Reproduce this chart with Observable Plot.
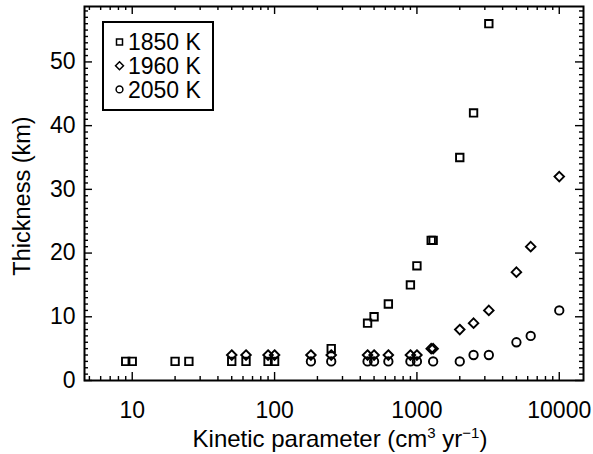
<!DOCTYPE html>
<html><head><meta charset="utf-8">
<script src="https://cdn.jsdelivr.net/npm/d3@7"></script>
<script src="https://cdn.jsdelivr.net/npm/@observablehq/plot@0.6"></script>
<style>
html,body{margin:0;padding:0;background:#fff;}
#chart{width:593px;height:454px;position:relative;}
</style></head><body><div id="chart"></div>
<script>
// ---- data ----
const seriesNames = ["1850 K", "1960 K", "2050 K"];
const k1850 = [9, 10, 20, 25, 50, 63, 90, 100, 250, 450, 500, 630, 900, 1000, 1260, 1300, 2000, 2500, 3200];
const t1850 = [3, 3, 3, 3, 3, 3, 3, 3, 5, 9, 10, 12, 15, 18, 22, 22, 35, 42, 56];
const k1960 = [50, 63, 90, 100, 180, 250, 450, 500, 630, 900, 1000, 1260, 1300, 2000, 2500, 3200, 5000, 6300, 10000];
const t1960 = [4, 4, 4, 4, 4, 4, 4, 4, 4, 4, 4, 5, 5, 8, 9, 11, 17, 21, 32];
const k2050 = [180, 250, 450, 500, 630, 900, 1000, 1300, 2000, 2500, 3200, 5000, 6300, 10000];
const t2050 = [3, 3, 3, 3, 3, 3, 3, 3, 3, 4, 4, 6, 7, 11];
const xMajorTicks = [10, 100, 1000, 10000];
const xTickLabels = ["10", "100", "1000", "10000"];
const yMajorTicks = [0, 10, 20, 30, 40, 50];
const yTickLabels = ["0", "10", "20", "30", "40", "50"];
const xTitle = ["Kinetic parameter (cm", "3", " yr", "\u22121", ")"];
const yTitle = "Thickness (km)";

const rows = (ks, ts) => ks.map((k, i) => ({k, t: ts[i]}));
const d1850 = rows(k1850, t1850), d1960 = rows(k1960, t1960), d2050 = rows(k2050, t2050);

const W = 593, H = 454, ML = 84, MR = 10, MT = 6, MB = 74;
const xDomain = [4.62, 14800], yDomain = [0, 58.7];
const xMinor = [];
for (let p = 0; p <= 4; p++) for (let m = 2; m <= 9; m++) {
  const v = m * Math.pow(10, p);
  if (v > xDomain[0] && v < xDomain[1] && !xMajorTicks.includes(v)) xMinor.push(v);
}
const yMinor = d3.range(1, 59).filter(v => v % 10 !== 0);

// tick lengths converted from pixels to data units (ticks point inward)
const pxPerY = (H - MT - MB) / (yDomain[1] - yDomain[0]);
const pxPerDecade = (W - ML - MR) / Math.log10(xDomain[1] / xDomain[0]);
const dy = px => px / pxPerY;
const xl = px => xDomain[0] * Math.pow(10, px / pxPerDecade);
const xr = px => xDomain[1] / Math.pow(10, px / pxPerDecade);

const FONT = "'Liberation Sans', Arial, Helvetica, sans-serif";
const tk = {stroke: "#000", strokeWidth: 1.4};

const plot = Plot.plot({
  width: W, height: H,
  marginLeft: ML, marginRight: MR, marginTop: MT, marginBottom: MB,
  style: {fontFamily: FONT, fontSize: "23px", color: "#000", background: "#fff", overflow: "visible"},
  x: {type: "log", domain: xDomain, axis: null},
  y: {domain: yDomain, axis: null},
  marks: [
    Plot.ruleX(xMinor, {...tk, x: d => d, y1: yDomain[0], y2: yDomain[0] + dy(4)}),
    Plot.ruleX(xMajorTicks, {...tk, x: d => d, y1: yDomain[0], y2: yDomain[0] + dy(8)}),
    Plot.ruleX(xMinor, {...tk, x: d => d, y1: yDomain[1], y2: yDomain[1] - dy(4)}),
    Plot.ruleX(xMajorTicks, {...tk, x: d => d, y1: yDomain[1], y2: yDomain[1] - dy(8)}),
    Plot.ruleY(yMinor, {...tk, y: d => d, x1: xDomain[0], x2: xl(4)}),
    Plot.ruleY(yMajorTicks, {...tk, y: d => d, x1: xDomain[0], x2: xl(8)}),
    Plot.ruleY(yMinor, {...tk, y: d => d, x1: xDomain[1], x2: xr(4)}),
    Plot.ruleY(yMajorTicks, {...tk, y: d => d, x1: xDomain[1], x2: xr(8)}),
    Plot.axisX({anchor: "bottom", ticks: xMajorTicks, tickSize: 0, tickPadding: 21, label: null,
      tickFormat: d => xTickLabels[xMajorTicks.indexOf(d)]}),
    Plot.axisY({anchor: "left", ticks: yMajorTicks, tickSize: 0, tickPadding: 9, label: null,
      tickFormat: d => yTickLabels[yMajorTicks.indexOf(d)]}),
    Plot.frame({stroke: "#000", strokeWidth: 2}),
    Plot.dot(d1850, {x: "k", y: "t", symbol: "square", r: 4.2, stroke: "#000", strokeWidth: 1.9, fill: "none"}),
    Plot.dot(d1960, {x: "k", y: "t", symbol: "diamond2", r: 4.3, stroke: "#000", strokeWidth: 1.9, fill: "none"}),
    Plot.dot(d2050, {x: "k", y: "t", symbol: "circle", r: 4.2, stroke: "#000", strokeWidth: 1.9, fill: "none"})
  ]
});
document.getElementById("chart").appendChild(plot);

const svg = d3.select(plot);
// axis titles
const xt = svg.append("text").attr("x", 340).attr("y", 447).attr("text-anchor", "middle")
  .attr("font-family", FONT).attr("font-size", 24).attr("fill", "#000");
xt.append("tspan").text(xTitle[0]);
xt.append("tspan").attr("dy", -9).attr("font-size", 15).text(xTitle[1]);
xt.append("tspan").attr("dy", 9).text(xTitle[2]);
xt.append("tspan").attr("dy", -9).attr("font-size", 15).text(xTitle[3]);
xt.append("tspan").attr("dy", 9).text(xTitle[4]);
svg.append("text").attr("transform", "translate(30,196) rotate(-90)").attr("text-anchor", "middle")
  .attr("font-family", FONT).attr("font-size", 23.5).attr("fill", "#000").text(yTitle);

// legend
const lg = svg.append("g");
lg.append("rect").attr("x", 103).attr("y", 22).attr("width", 110).attr("height", 88)
  .attr("fill", "#fff").attr("stroke", "#000").attr("stroke-width", 2);
const legSyms = [d3.symbolSquare, d3.symbolDiamond2, d3.symbolCircle];
seriesNames.forEach((name, i) => {
  const cy = 42 + i * 23.7;
  lg.append("path").attr("d", d3.symbol(legSyms[i], i === 1 ? 40 : 36)())
    .attr("transform", `translate(119.5,${cy})`).attr("fill", "none").attr("stroke", "#000").attr("stroke-width", 1.5);
  lg.append("text").attr("x", 128).attr("y", cy).attr("dy", "0.36em").attr("text-anchor", "start")
    .attr("font-family", FONT).attr("font-size", 23).attr("fill", "#000").text(name);
});
</script></body></html>
